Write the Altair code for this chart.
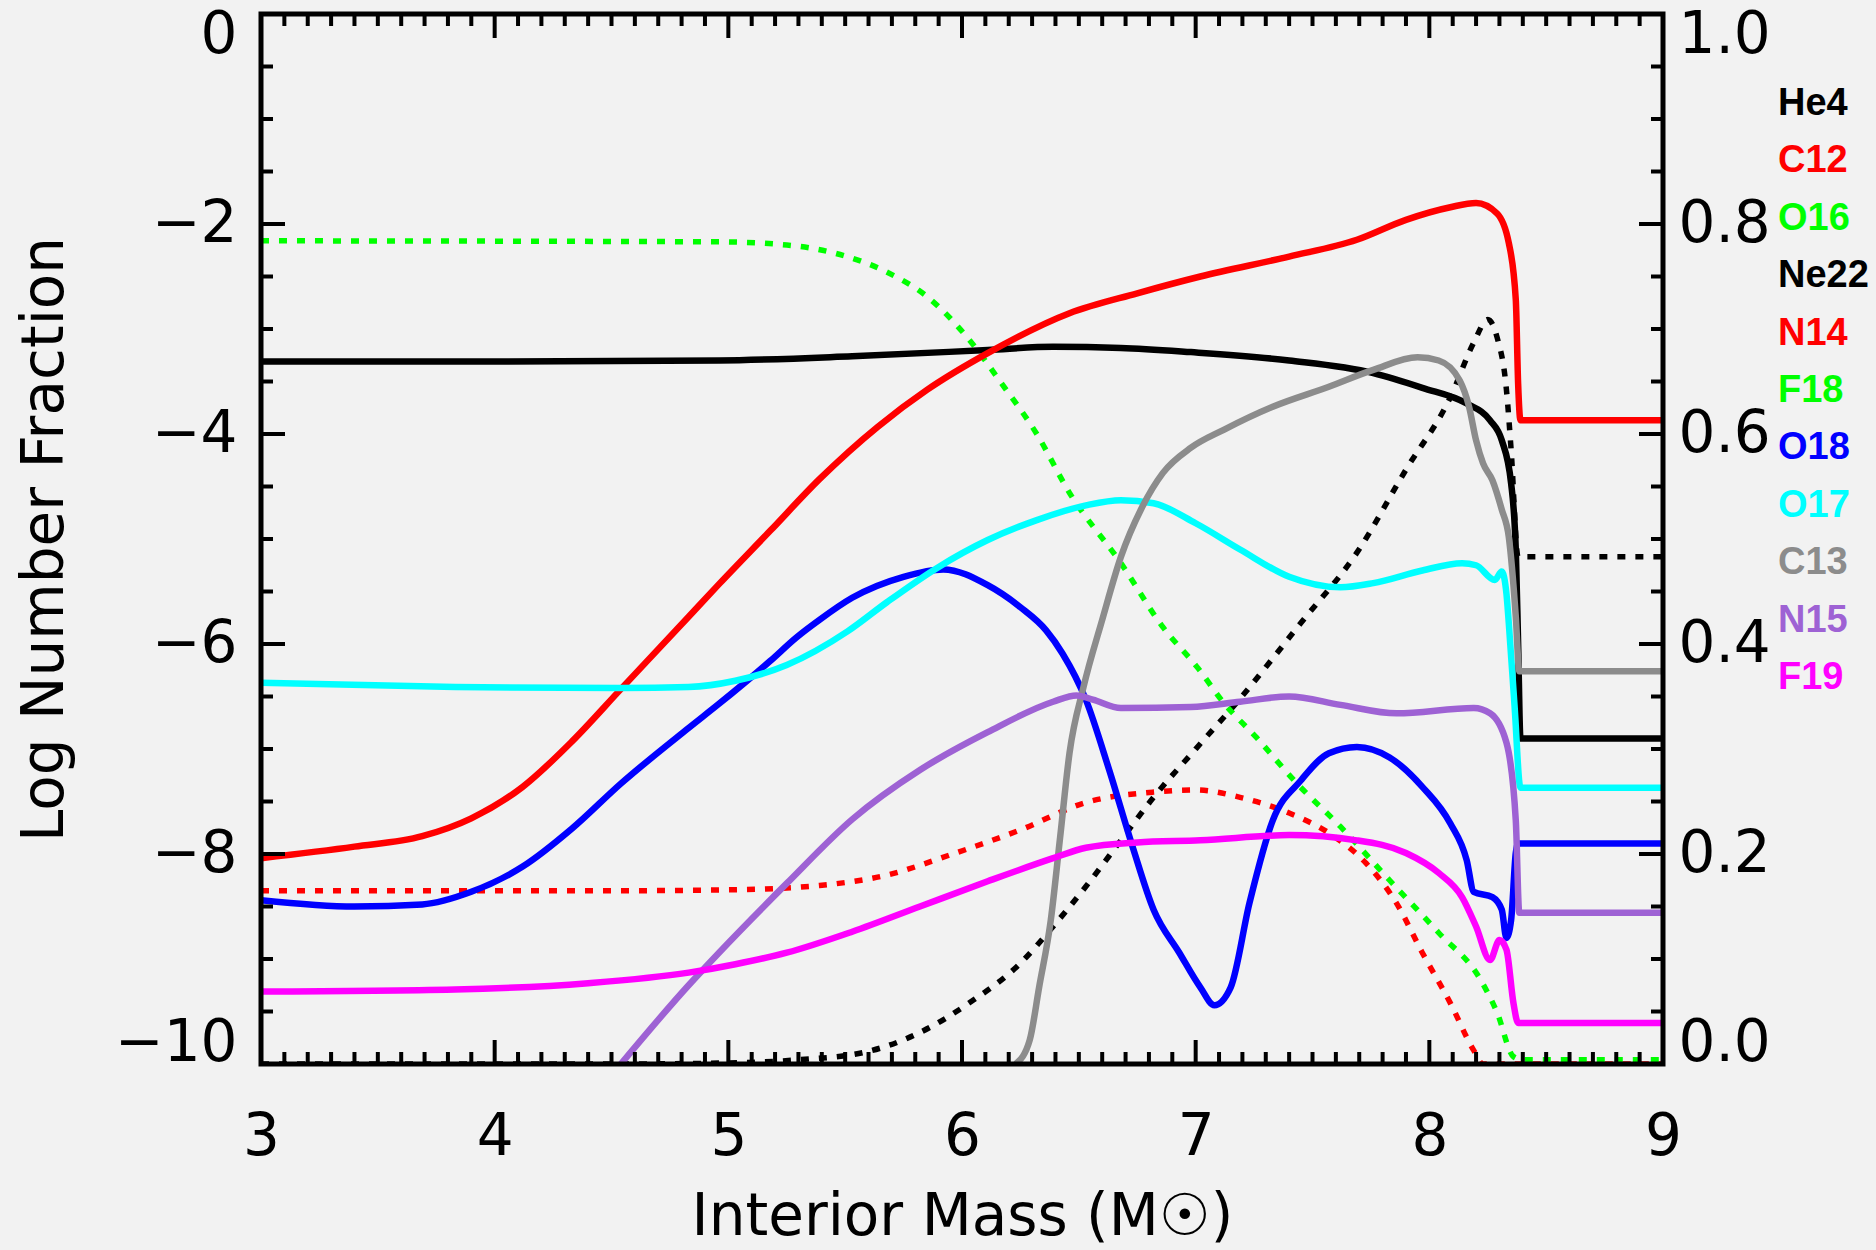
import altair as alt
import pandas as pd

W, H = 1402, 1050
AX_FONT = "DejaVu Sans"
LEG_FONT = "Liberation Sans"

# ---------------- legend / colours ----------------
species = ["He4", "C12", "O16", "Ne22", "N14", "F18", "O18", "O17", "C13", "N15", "F19"]
species_colors = ["#000000", "#ff0000", "#00ff00", "#000000", "#ff0000", "#00ff00",
                  "#0000ff", "#00ffff", "#8c8c8c", "#9e62d4", "#ff00ff"]

# ---------------- mass fractions (right axis, dashed) ----------------
he4_x = [3.0, 4.5, 5.0, 5.3, 5.58, 5.82, 6.03, 6.25, 6.39, 6.53, 6.68, 6.82, 7.0, 7.19,
         7.45, 7.69, 7.90, 8.09, 8.19, 8.25, 8.29, 8.33, 8.35, 8.38, 9.0]
he4_y = [0.0, 0.0, 0.001, 0.004, 0.011, 0.03, 0.058, 0.096, 0.131, 0.169, 0.213, 0.254,
         0.300, 0.348, 0.42, 0.487, 0.566, 0.635, 0.687, 0.709, 0.692, 0.642, 0.585, 0.483, 0.483]

c12_x = [3.0, 4.5, 5.03, 5.39, 5.68, 5.96, 6.25, 6.53, 6.82, 7.0, 7.19, 7.40, 7.57, 7.73,
         7.86, 7.97, 8.09, 8.19, 8.23, 9.0]
c12_y = [0.165, 0.165, 0.166, 0.170, 0.18, 0.20, 0.223, 0.249, 0.259, 0.261, 0.254, 0.239,
         0.22, 0.191, 0.153, 0.106, 0.058, 0.013, 0.0, 0.0]

o16_x = [3.0, 4.96, 5.25, 5.46, 5.68, 5.85, 6.03, 6.17, 6.32, 6.46, 6.68, 6.86, 7.01, 7.12,
         7.26, 7.43, 7.62, 7.83, 8.04, 8.22, 8.29, 8.36, 8.40, 9.0]
o16_y = [0.784, 0.783, 0.78, 0.772, 0.754, 0.731, 0.69, 0.648, 0.60, 0.544, 0.477, 0.416,
         0.377, 0.344, 0.311, 0.268, 0.226, 0.175, 0.125, 0.080, 0.049, 0.007, 0.004, 0.004]

# ---------------- log number fractions (left axis, solid) ----------------
ne22_x = [3.0, 4.0, 4.96, 5.53, 6.11, 6.39, 6.68, 6.98, 7.40, 7.76, 7.97, 8.16, 8.26, 8.31,
          8.35, 8.37, 8.38, 8.39, 9.0]
ne22_y = [-3.31, -3.31, -3.30, -3.26, -3.20, -3.17, -3.18, -3.22, -3.30, -3.42, -3.56, -3.71,
          -3.87, -4.06, -4.47, -5.10, -6.0, -6.90, -6.90]

n14_x = [3.0, 3.4, 3.69, 3.9, 4.12, 4.33, 4.54, 4.83, 4.96, 5.18, 5.39, 5.64, 5.85, 6.11,
         6.46, 6.75, 7.02, 7.40, 7.69, 7.90, 8.09, 8.20, 8.29, 8.34, 8.37, 8.38, 8.39, 9.0]
n14_y = [-8.04, -7.93, -7.83, -7.66, -7.36, -6.93, -6.43, -5.74, -5.43, -4.92, -4.43, -3.93,
         -3.58, -3.23, -2.85, -2.66, -2.50, -2.31, -2.15, -1.96, -1.84, -1.80, -1.90, -2.18,
         -2.72, -3.52, -3.87, -3.87]

o18_x = [3.0, 3.40, 3.69, 3.90, 4.12, 4.33, 4.54, 4.83, 4.96, 5.18, 5.29, 5.39, 5.53, 5.75,
         5.92, 6.11, 6.25, 6.36, 6.43, 6.53, 6.63, 6.73, 6.82, 6.93, 7.02, 7.08, 7.15, 7.23,
         7.33, 7.45, 7.57, 7.69, 7.83, 7.97, 8.09, 8.16, 8.19, 8.27, 8.31, 8.33, 8.35, 8.37,
         8.38, 9.0]
o18_y = [-8.44, -8.50, -8.48, -8.36, -8.12, -7.76, -7.33, -6.80, -6.57, -6.16, -5.94, -5.77,
         -5.56, -5.36, -5.29, -5.44, -5.65, -5.87, -6.09, -6.53, -7.2, -7.93, -8.53, -8.94,
         -9.27, -9.44, -9.27, -8.47, -7.68, -7.3, -7.04, -6.98, -7.08, -7.36, -7.71, -8.06,
         -8.36, -8.41, -8.53, -8.80, -8.63, -7.99, -7.90, -7.90]

o17_x = [3.0, 3.83, 4.54, 4.83, 5.03, 5.25, 5.51, 5.68, 5.89, 6.11, 6.32, 6.53, 6.68, 6.82,
         7.0, 7.19, 7.40, 7.62, 7.76, 7.97, 8.14, 8.20, 8.28, 8.31, 8.33, 8.34, 8.365, 8.39, 9.0]
o17_y = [-6.37, -6.41, -6.42, -6.41, -6.35, -6.20, -5.88, -5.60, -5.28, -5.01, -4.82, -4.68,
         -4.63, -4.66, -4.85, -5.10, -5.36, -5.46, -5.42, -5.30, -5.23, -5.25, -5.39, -5.31,
         -5.52, -5.8, -6.6, -7.37, -7.37]

c13_x = [6.23, 6.29, 6.33, 6.38, 6.42, 6.46, 6.52, 6.60, 6.68, 6.77, 6.86, 6.98, 7.12, 7.33,
         7.57, 7.76, 7.95, 8.04, 8.13, 8.17, 8.20, 8.23, 8.27, 8.31, 8.34, 8.37, 8.385, 9.0]
c13_y = [-10.0, -9.77, -9.27, -8.63, -7.84, -7.04, -6.41, -5.77, -5.17, -4.70, -4.37, -4.13,
         -3.96, -3.74, -3.55, -3.39, -3.27, -3.30, -3.49, -3.74, -4.06, -4.28, -4.44, -4.72,
         -4.98, -5.74, -6.26, -6.26]

n15_x = [4.54, 4.83, 4.96, 5.25, 5.53, 5.82, 6.11, 6.39, 6.49, 6.56, 6.68, 6.98, 7.19, 7.40,
         7.62, 7.86, 8.19, 8.26, 8.33, 8.37, 8.385, 9.0]
n15_y = [-10.0, -9.25, -8.94, -8.28, -7.67, -7.2, -6.84, -6.55, -6.49, -6.53, -6.61, -6.60,
         -6.55, -6.50, -6.58, -6.66, -6.61, -6.66, -6.94, -7.68, -8.56, -8.56]

f19_x = [3.0, 3.83, 4.40, 4.83, 5.03, 5.25, 5.53, 5.82, 6.11, 6.39, 6.53, 6.75, 7.02, 7.40,
         7.69, 7.90, 8.04, 8.14, 8.20, 8.26, 8.30, 8.33, 8.36, 8.38, 9.0]
f19_y = [-9.31, -9.29, -9.23, -9.13, -9.05, -8.94, -8.74, -8.50, -8.26, -8.04, -7.94, -7.89,
         -7.87, -7.82, -7.87, -7.99, -8.18, -8.41, -8.69, -9.01, -8.82, -8.91, -9.42, -9.61, -9.61]

# ---------------- axis ticks ----------------
x_major = [3, 4, 5, 6, 7, 8, 9]
x_minor = [v / 10 for v in range(31, 90) if v % 10 != 0]
yl_major = [-10, -8, -6, -4, -2, 0]
yl_minor = [v / 2 for v in range(-19, 0) if v % 4 != 0]
yr_major = [0.0, 0.2, 0.4, 0.6, 0.8, 1.0]
yr_minor = [v / 20 for v in range(1, 20) if v % 4 != 0]


def long_frame(series):
    rows = []
    for name, xs, ys in series:
        for i, (a, b) in enumerate(zip(xs, ys)):
            rows.append({"series": name, "mass": a, "val": b, "idx": i})
    return pd.DataFrame(rows)


dashed_df = long_frame([("He4", he4_x, he4_y), ("C12", c12_x, c12_y), ("O16", o16_x, o16_y)])
solid_df = long_frame([("Ne22", ne22_x, ne22_y), ("N14", n14_x, n14_y), ("O18", o18_x, o18_y),
                       ("O17", o17_x, o17_y), ("C13", c13_x, c13_y), ("N15", n15_x, n15_y),
                       ("F19", f19_x, f19_y)])

xscale = alt.Scale(domain=[3, 9], nice=False, zero=False)
lscale = alt.Scale(domain=[-10, 0], nice=False, zero=False)
rscale = alt.Scale(domain=[0, 1], nice=False, zero=False)
cscale = alt.Scale(domain=species, range=species_colors)

x_axis = alt.Axis(values=x_major, format="d", labelFlush=False, labelPadding=44,
                  title="Interior Mass (M☉)", titlePadding=22, ticks=False, domain=False,
                  grid=False)

dashed = alt.Chart(dashed_df).mark_line(strokeWidth=5.5, strokeDash=[8, 10], clip=True,
                                        interpolate="monotone").encode(
    x=alt.X("mass:Q", scale=xscale, axis=x_axis),
    y=alt.Y("val:Q", scale=rscale,
            axis=alt.Axis(orient="right", values=yr_major, format=".1f", labelFlush=True,
                          labelFlushOffset=8, labelPadding=15, title=None, ticks=False,
                          domain=False, grid=False)),
    color=alt.Color("series:N", scale=cscale, legend=None),
    detail="series:N",
    order="idx:Q",
)

solid = alt.Chart(solid_df).mark_line(strokeWidth=6.5, clip=True,
                                      interpolate="monotone").encode(
    x=alt.X("mass:Q", scale=xscale, axis=x_axis),
    y=alt.Y("val:Q", scale=lscale,
            axis=alt.Axis(orient="left", values=yl_major, format="d", labelFlush=True,
                          labelFlushOffset=8, labelPadding=24, title="Log Number Fraction",
                          titlePadding=40, ticks=False, domain=False, grid=False)),
    color=alt.Color("series:N", scale=cscale, legend=None),
    detail="series:N",
    order="idx:Q",
)

MAJ, MIN = 24, 12


def xticks(vals, length, top):
    y0, y1 = (0, length) if top else (H, H - length)
    return alt.Chart(pd.DataFrame({"v": vals})).mark_rule(color="black", strokeWidth=4).encode(
        x=alt.X("v:Q", scale=xscale, axis=x_axis), y=alt.value(y0), y2=alt.value(y1))


def yticks(vals, scale, length, right):
    x0, x1 = (W - length, W) if right else (0, length)
    return alt.Chart(pd.DataFrame({"v": vals})).mark_rule(color="black", strokeWidth=4).encode(
        y=alt.Y("v:Q", scale=scale, axis=None), x=alt.value(x0), x2=alt.value(x1))


tick_layers = [
    xticks(x_major, MAJ, False), xticks(x_minor, MIN, False),
    xticks(x_major, MAJ, True), xticks(x_minor, MIN, True),
    yticks(yl_major, lscale, MAJ, False), yticks(yl_minor, lscale, MIN, False),
    yticks(yr_major, rscale, MAJ, True), yticks(yr_minor, rscale, MIN, True),
]

frame = alt.Chart(pd.DataFrame({"f": [0]})).mark_rect(
    fillOpacity=0, stroke="black", strokeWidth=5).encode(
    x=alt.value(0), x2=alt.value(W), y=alt.value(0), y2=alt.value(H))

legend_df = pd.DataFrame({"series": species})
legend = alt.Chart(legend_df).mark_text(
    align="left", baseline="middle", font=LEG_FONT, fontWeight="bold", fontSize=38).encode(
    x=alt.value(W + 115),
    y=alt.Y("series:N", scale=alt.Scale(type="point", domain=species, range=[90, 664], padding=0),
            axis=None),
    text="series:N",
    color=alt.Color("series:N", scale=cscale, legend=None),
)

chart = alt.layer(dashed, solid, *tick_layers, frame, legend).resolve_scale(
    y="independent"
).properties(
    width=W, height=H,
    autosize=alt.AutoSizeParams(type="none"),
    padding={"left": 261, "top": 14, "right": 213, "bottom": 186},
    background="#f2f2f2",
).configure_view(strokeWidth=0).configure_axis(
    labelFont=AX_FONT, labelFontSize=58, labelColor="black",
    titleFont=AX_FONT, titleFontSize=58, titleFontWeight="normal", titleColor="black",
)

chart.save("out.html", embed_options={"renderer": "svg", "actions": False})
